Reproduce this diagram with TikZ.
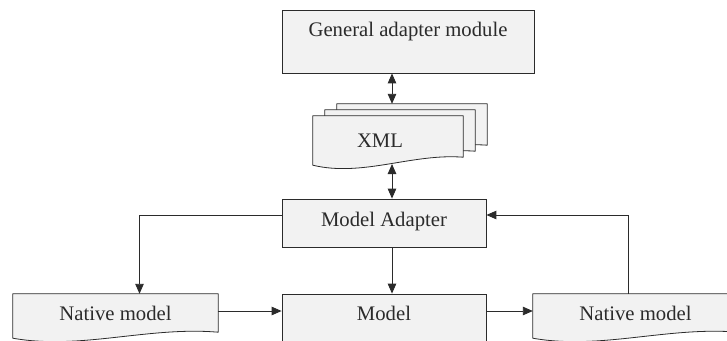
\documentclass[tikz,border=0pt]{standalone}
\usepackage{fontspec}
\setmainfont{Liberation Serif}
\usetikzlibrary{arrows.meta,calc,backgrounds}
\definecolor{BoxFill}{HTML}{F2F2F2}
\definecolor{Ink}{HTML}{2B2B2B}

% sheet with a wavy foot round a node; #2 = how far the right end rises
\newcommand{\docoutline}[2]{%
  \path[draw=Ink,fill=BoxFill,line width=0.8pt,line join=round]
    (#1.north west) -- (#1.north east) -- ($(#1.south east)+(0,#2)$)
    .. controls ($(#1.south west)!0.66!(#1.south east)+(0,12)$)
       and ($(#1.south west)!0.33!(#1.south east)+(0,-12)$) .. (#1.south west) -- cycle;}

\begin{document}
\begin{tikzpicture}[x=1pt,y=1pt,>={Triangle[length=10pt,width=8.5pt]},
    every node/.style={font=\fontsize{20.7}{24}\selectfont,text=Ink,inner sep=0pt},
    box/.style={draw=Ink,fill=BoxFill,line width=0.8pt},
    link/.style={draw=Ink,line width=0.9pt,->},
    twoway/.style={draw=Ink,line width=0.9pt,<->}]
  \useasboundingbox (0,0) rectangle (727,-340);

  \node[box,minimum width=252,minimum height=63,text depth=25pt] (gam) at (408,-41.5) {General adapter module};
  % stack of xml sheets, back to front
  \node[minimum width=150,minimum height=49] (xmla) at (412,-128.5) {};
  \node[minimum width=150,minimum height=49] (xmlb) at (400,-134.5) {};
  \node[minimum width=150,minimum height=49,label={[xshift=-8pt]center:XML}] (xml) at (388,-140.5) {};
  \node[box,minimum width=204,minimum height=48,text depth=8pt] (ma) at (384,-223) {Model Adapter};
  \node[box,minimum width=204,minimum height=56,text depth=18pt] (mod) at (384,-322) {Model};
  \node[minimum width=205,minimum height=44,text depth=6pt] (natl) at (115.5,-316) {Native model};
  \node[minimum width=205,minimum height=44,text depth=6pt] (natr) at (635.5,-316) {Native model};

  \begin{scope}[on background layer]
    \fill[white] (0,0) rectangle (727,-340);
    \docoutline{xmla}{8}
    \docoutline{xmlb}{8}
    \docoutline{xml}{8}
    \docoutline{natl}{6}
    \docoutline{natr}{6}
  \end{scope}

  \coordinate (axis) at (392,0);
  \coordinate (loop) at (0,-215);
  \coordinate (flow) at (0,-311);
  \coordinate (xmlfoot) at (392,-164);

  \draw[twoway] (gam.south -| axis) -- (xmla.north -| axis);
  \draw[twoway] (xmlfoot) -- (ma.north -| axis);
  \draw[link] (ma.south -| axis) -- (mod.north -| axis);
  \draw[link] (ma.west |- loop) -| ([xshift=24]natl.north);
  \draw[link] ([xshift=-7.5]natr.north) |- (ma.east |- loop);
  \draw[link] (natl.east |- flow) -- (mod.west |- flow);
  \draw[link] (mod.east |- flow) -- (natr.west |- flow);
\end{tikzpicture}
\end{document}
